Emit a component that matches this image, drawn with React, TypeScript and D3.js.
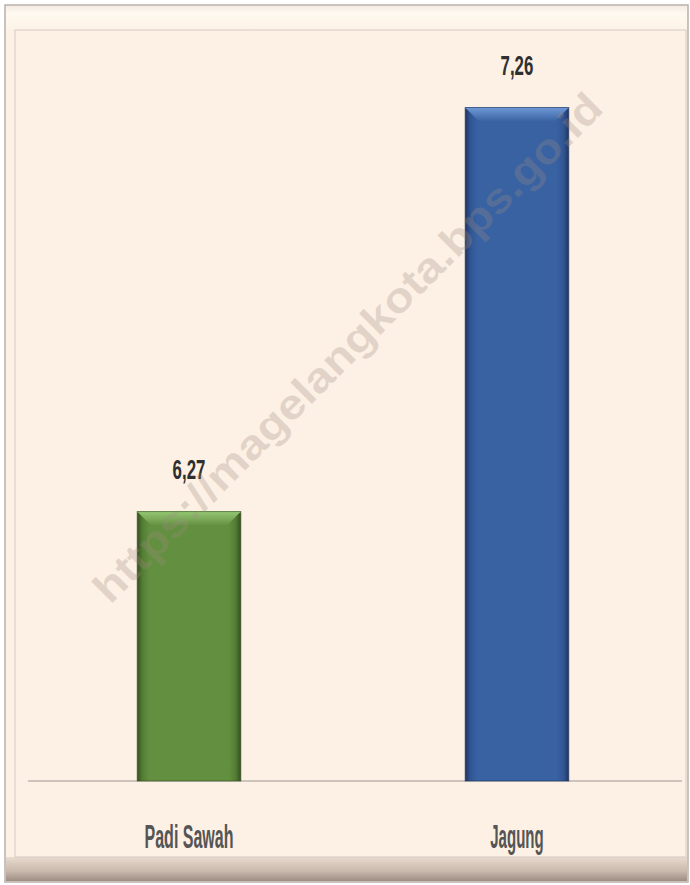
import React from "react";
import * as d3 from "d3";

const categories = ["Padi Sawah", "Jagung"];
const values = [6.27, 7.26];
const valueLabels = ["6,27", "7,26"];
const watermark = "https://magelangkota.bps.go.id";

const W = 690;
const H = 885;

const palettes = [
  { id: "g", main: "#5f8d3b", light: "#93c771", dark: "#2e4a1b", mid: "#4f7a2f" },
  { id: "b", main: "#335ea1", light: "#6b96d6", dark: "#1b2f5c", mid: "#2b5190" },
];

// approximate widths of condensed labels (per char)
const catWidth = (s: string) => s.length * 8.9;
const valWidth = (s: string) => s.length * 8.2;

export default function App() {
  const x = d3.scaleBand<string>().domain(categories).range([28, 678]).paddingInner(0.684).paddingOuter(0.333);
  const y = d3.scaleLinear().domain([5.61, 7.45]).range([781, 30]);
  const bw = x.bandwidth();
  const font = "'Liberation Sans', Arial, sans-serif";

  return (
    <svg width={W} height={H} style={{ position: "absolute", left: 0, top: 0, display: "block" }}>
      <defs>
        <linearGradient id="bottomStrip" x1="0" y1="0" x2="0" y2="1">
          <stop offset="0" stopColor="#e9dbcf" />
          <stop offset="0.6" stopColor="#c9b8ac" />
          <stop offset="1" stopColor="#9c8c82" />
        </linearGradient>
        <linearGradient id="topStrip" x1="0" y1="0" x2="0" y2="1">
          <stop offset="0" stopColor="#f3ebe4" />
          <stop offset="0.3" stopColor="#fff9f0" />
          <stop offset="1" stopColor="#fdf3e6" />
        </linearGradient>
        {palettes.map((p) => (
          <linearGradient key={p.id} id={"side" + p.id} x1="0" y1="0" x2="1" y2="0">
            <stop offset="0" stopColor={p.dark} />
            <stop offset="0.05" stopColor={p.mid} />
            <stop offset="0.12" stopColor={p.main} />
            <stop offset="0.88" stopColor={p.main} />
            <stop offset="0.95" stopColor={p.mid} />
            <stop offset="1" stopColor={p.dark} />
          </linearGradient>
        ))}
        {palettes.map((p) => (
          <linearGradient key={p.id + "t"} id={"top" + p.id} x1="0" y1="0" x2="0" y2="1">
            <stop offset="0" stopColor={p.light} />
            <stop offset="1" stopColor={p.main} />
          </linearGradient>
        ))}
      </defs>

      {/* outer frame */}
      <rect x={5} y={5} width={683} height={877} fill="#fdf0e4" stroke="#b9b0aa" strokeWidth={1.5} />
      <rect x={6} y={6} width={681} height={24} fill="url(#topStrip)" />
      <rect x={6} y={857} width={681} height={24} fill="url(#bottomStrip)" />
      <rect x={15} y={30} width={671} height={827} fill="#fdf0e4" stroke="#d6cbc3" strokeWidth={1} />

      {/* baseline */}
      <line x1={28} x2={682} y1={y(5.61)} y2={y(5.61)} stroke="#cdc4bd" strokeWidth={2} />

      {/* bars */}
      {categories.map((c, i) => {
        const p = palettes[i];
        const x0 = x(c) as number;
        const yt = y(values[i]);
        const yb = y(5.61);
        const bev = 14;
        return (
          <g key={c} opacity={0.97}>
            <rect x={x0} y={yt} width={bw} height={yb - yt} fill={"url(#side" + p.id + ")"} />
            <path
              d={`M${x0},${yt} L${x0 + bw},${yt} L${x0 + bw - bev},${yt + bev} L${x0 + bev},${yt + bev} Z`}
              fill={"url(#top" + p.id + ")"}
            />
            <line x1={x0} x2={x0 + bw} y1={yt + 0.5} y2={yt + 0.5} stroke={p.light} strokeWidth={1.5} opacity={0.8} />
            <rect x={x0} y={yt} width={bw} height={yb - yt} fill="none" stroke={p.dark} strokeWidth={1} opacity={0.6} />
          </g>
        );
      })}

      {/* value labels */}
      {categories.map((c, i) => (
        <text
          key={c + "v"}
          x={(x(c) as number) + bw / 2 - valWidth(valueLabels[i]) / 2}
          y={y(values[i]) - 33}
          fontFamily={font}
          fontWeight="bold"
          fontSize={28}
          fill="#2f2f2f"
          textLength={valWidth(valueLabels[i])}
          lengthAdjust="spacingAndGlyphs"
        >
          {valueLabels[i]}
        </text>
      ))}

      {/* category labels */}
      {categories.map((c) => (
        <text
          key={c + "c"}
          x={(x(c) as number) + bw / 2 - catWidth(c) / 2}
          y={848}
          fontFamily={font}
          fontWeight="bold"
          fontSize={34}
          fill="#555"
          textLength={catWidth(c)}
          lengthAdjust="spacingAndGlyphs"
        >
          {c}
        </text>
      ))}

      {/* watermark (on top, translucent) */}
      <text
        transform="translate(350,350) rotate(-45)"
        textAnchor="middle"
        dominantBaseline="middle"
        fontFamily="'Liberation Sans', Arial, sans-serif"
        fontWeight="bold"
        fontSize={42}
        fill="#a08c82"
        fillOpacity={0.28}
        textLength={700}
        lengthAdjust="spacingAndGlyphs"
      >
        {watermark}
      </text>
    </svg>
  );
}
